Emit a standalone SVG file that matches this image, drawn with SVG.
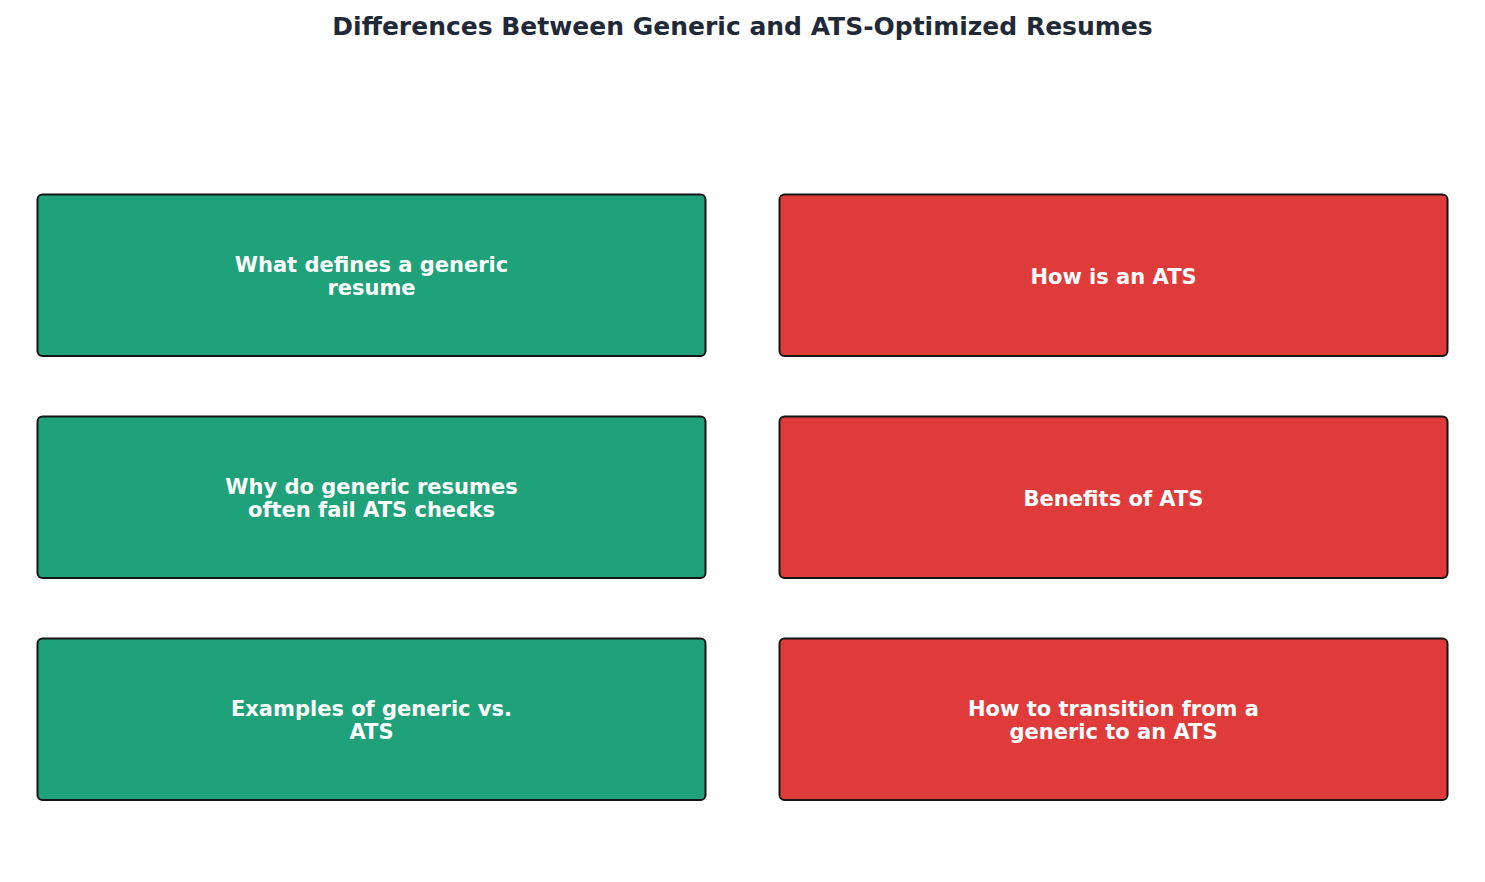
<svg xmlns="http://www.w3.org/2000/svg" width="1485" height="882" viewBox="0 0 1485 882">
<style>
.t{font-family:"DejaVu Sans",sans-serif;font-weight:bold;fill:#1f2937;font-size:25px;text-anchor:middle}
.b{stroke:#151515;stroke-width:2}
.g{fill:#1fa27a}
.r{fill:#e03b3b}
.l{font-family:"DejaVu Sans",sans-serif;font-weight:bold;fill:#ffffff;font-size:21px;text-anchor:middle}
</style>
<rect width="1485" height="882" fill="#ffffff"/>
<text class="t" x="742.5" y="35">Differences Between Generic and ATS-Optimized Resumes</text>
<g id="connectors"></g>
<g id="n1"><rect class="b g" x="37.5" y="194.5" width="668" height="161.5" rx="5"/><text class="l" x="371.5" y="272">What defines a generic</text><text class="l" x="371.5" y="294.5">resume</text></g>
<g id="n2"><rect class="b r" x="779.5" y="194.5" width="668" height="161.5" rx="5"/><text class="l" x="1113.5" y="283.5">How is an ATS</text></g>
<g id="n3"><rect class="b g" x="37.5" y="416.5" width="668" height="161.5" rx="5"/><text class="l" x="371.5" y="494">Why do generic resumes</text><text class="l" x="371.5" y="516.5">often fail ATS checks</text></g>
<g id="n4"><rect class="b r" x="779.5" y="416.5" width="668" height="161.5" rx="5"/><text class="l" x="1113.5" y="505.5">Benefits of ATS</text></g>
<g id="n5"><rect class="b g" x="37.5" y="638.5" width="668" height="161.5" rx="5"/><text class="l" x="371.5" y="716">Examples of generic vs.</text><text class="l" x="371.5" y="738.5">ATS</text></g>
<g id="n6"><rect class="b r" x="779.5" y="638.5" width="668" height="161.5" rx="5"/><text class="l" x="1113.5" y="716">How to transition from a</text><text class="l" x="1113.5" y="738.5">generic to an ATS</text></g>
</svg>
